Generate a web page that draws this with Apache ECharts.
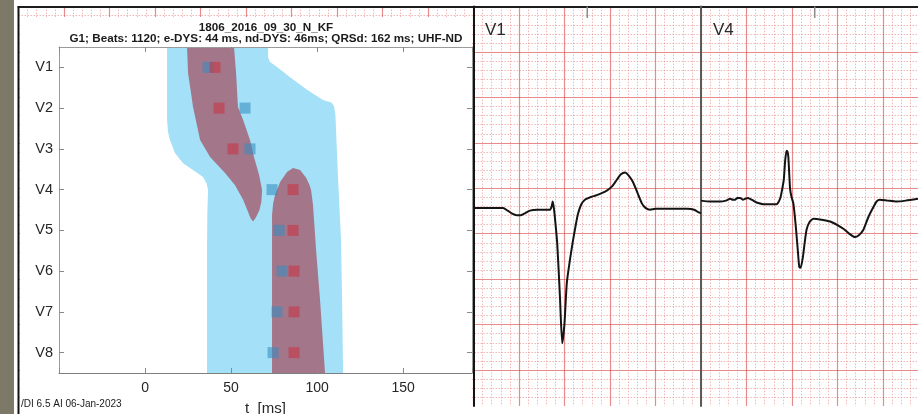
<!DOCTYPE html>
<html>
<head>
<meta charset="utf-8">
<script src="https://cdn.jsdelivr.net/npm/echarts@6/dist/echarts.min.js"></script>
<style>
html, body { margin: 0; padding: 0; background: #ffffff; }
#chart { width: 918px; height: 414px; }
</style>
</head>
<body>
<div id="chart"></div>
<script>
// ---- Activation map (left) ----
const leads = ['V1', 'V2', 'V3', 'V4', 'V5', 'V6', 'V7', 'V8'];
const timeTicks = [0, 50, 100, 150];

// Outline of the depolarisation band, [t ms, lead position]
const bandOutline = [
  [12.8, 0.5], [12.8, 2.29], [13.4, 2.60], [14.5, 2.78], [17.4, 3.10], [22.1, 3.35], [27.9, 3.52],
  [33.7, 3.69], [35.8, 3.85], [36.6, 4.01], [36.2, 4.6], [36.0, 5.48], [36.0, 8.5],
  [115.1, 8.5], [114.5, 6.71], [113.9, 5.24], [112.2, 3.76], [111.0, 2.54], [110.6, 2.15],
  [109.8, 1.95], [108.2, 1.86], [103.4, 1.80], [94.1, 1.55], [84.3, 1.24], [76.7, 0.99],
  [72.5, 0.86], [71.5, 0.75], [71.5, 0.5]
];
// Outlines of the two core zones
const coreUpper = [
  [24.4, 0.5], [25.0, 1.14], [27.9, 1.97], [32.0, 2.78], [37.8, 3.20], [46.5, 3.59],
  [52.3, 3.89], [57.0, 4.25], [59.9, 4.55], [61.3, 4.70], [62.8, 4.78], [64.5, 4.68], [66.5, 4.50],
  [67.6, 4.30], [68.0, 4.01], [66.3, 3.64], [63.3, 3.20], [61.0, 2.78], [57.0, 2.29], [54.0, 1.97],
  [52.9, 1.14], [51.7, 0.5]
];
const coreLower = [
  [73.8, 8.5], [73.8, 5.48], [73.8, 4.62], [74.4, 4.35], [75.5, 4.13], [78.5, 3.81], [82.5, 3.57],
  [86.0, 3.47], [90.1, 3.52], [93.6, 3.71], [95.5, 3.88], [96.5, 4.01], [97.6, 4.38], [99.4, 5.48],
  [101.7, 6.71], [104.6, 8.5]
];
// Per-lead activation times (ms)
const blueMarks = [36.6, 58.1, 61.0, 73.8, 77.9, 79.6, 76.7, 74.4];
const redMarks  = [40.7, 43.0, 51.1, 86.0, 86.0, 86.6, 86.6, 86.6];

// ---- Averaged beats (right), [ms, mV] ----
const v1Trace = [
  [0, -0.02], [30, -0.02], [65, -0.02], [75, -0.05], [84, -0.08], [95, -0.10], [104, -0.10],
  [113, -0.08], [124, -0.05], [140, -0.04], [168, -0.04], [172, 0.0], [174, 0.05], [176, 0.0],
  [178, -0.08], [184, -0.41], [190, -1.0], [195, -1.51], [200, -1.29], [205, -0.85],
  [212, -0.59], [219, -0.37], [225, -0.2], [230, -0.08], [237, 0.02], [245, 0.07], [258, 0.10],
  [271, 0.12], [293, 0.17], [305, 0.22], [315, 0.29], [324, 0.35], [333, 0.37], [342, 0.33],
  [351, 0.26], [360, 0.15], [370, 0.03], [378, -0.02], [388, -0.04], [400, -0.03], [418, -0.03],
  [450, -0.03], [469, -0.03], [485, -0.04], [495, -0.07], [500, -0.08]
];
const v4Trace = [
  [0, 0.06], [20, 0.05], [42, 0.05], [55, 0.06], [64, 0.08], [70, 0.07], [75, 0.07], [80, 0.09],
  [86, 0.09], [92, 0.07], [97, 0.08], [103, 0.09], [108, 0.08], [115, 0.06], [122, 0.04],
  [140, 0.02], [166, 0.02], [172, 0.06], [175, 0.10], [179, 0.2], [182, 0.29], [185, 0.5],
  [188, 0.61], [190, 0.6], [192, 0.54], [194, 0.35], [196, 0.18], [199, 0.1], [203, 0.03],
  [206, -0.1], [209, -0.26], [213, -0.5], [216, -0.67], [219, -0.68], [224, -0.56], [228, -0.4],
  [232, -0.26], [238, -0.18], [247, -0.14], [265, -0.15], [284, -0.17], [300, -0.21],
  [313, -0.25], [325, -0.3], [338, -0.34], [347, -0.32], [357, -0.26], [368, -0.12],
  [379, -0.01], [386, 0.05], [393, 0.07], [410, 0.06], [430, 0.05], [450, 0.06], [477, 0.08]
];
const fiducialMs = 250;

const FONT = 'Liberation Sans, Arial, sans-serif';
const chart = echarts.init(document.getElementById('chart'), null, { renderer: 'canvas' });

function patch(points, color) {
  return {
    type: 'custom', xAxisIndex: 1, yAxisIndex: 3, z: 2, silent: true, clip: true,
    data: [[0, 1]],
    renderItem: (params, api) => ({
      type: 'polygon',
      shape: { points: points.map(p => api.coord(p)) },
      style: { fill: color }
    })
  };
}

const paperMajor = { show: true, showMinLine: false, showMaxLine: false,
  lineStyle: { color: 'rgba(214,70,70,0.62)', width: 1.2 } };
const paperMinor = { show: true, lineStyle: { color: 'rgba(232,125,125,0.55)', width: 1, type: [1.5, 1.5] } };

const matlabLine = { show: true, onZero: false, lineStyle: { color: '#9a9a9a', width: 1 } };
const matlabTick = { show: true, inside: true, length: 5, lineStyle: { color: '#8a8a8a' } };

const option = {
  animation: false,
  grid: [
    { left: 18.5, top: 6.6, width: 899.5, height: 399.4, containLabel: false, outerBoundsMode: 'none' },
    { left: 59, top: 47, width: 413, height: 326, containLabel: false, outerBoundsMode: 'none' },
    { left: 473.5, top: 6.6, width: 227.5, height: 399.4, containLabel: false, outerBoundsMode: 'none' },
    { left: 701, top: 6.6, width: 217, height: 399.4, containLabel: false, outerBoundsMode: 'none' }
  ],
  xAxis: [
    { // ECG paper, mm
      gridIndex: 0, type: 'value', min: 0, max: 98.85, interval: 5, position: 'top', z: 0,
      axisLine: { show: true, lineStyle: { color: '#1c1c1c', width: 2 } },
      axisTick: { show: false }, axisLabel: { show: false },
      splitLine: paperMajor, minorTick: { show: false, splitNumber: 5 }, minorSplitLine: paperMinor
    },
    { // activation map, bottom
      gridIndex: 1, type: 'value', min: -50, max: 190, interval: 50, position: 'bottom', z: 5,
      axisLine: { show: true, onZero: false, lineStyle: { color: '#7f7f7f', width: 1 } },
      axisTick: matlabTick,
      axisLabel: { fontSize: 14, color: '#262626', fontFamily: FONT, margin: 8,
        formatter: v => (timeTicks.indexOf(v) >= 0 ? String(v) : '') },
      splitLine: { show: false },
      name: 't  [ms]', nameLocation: 'middle', nameGap: 28,
      nameTextStyle: { fontSize: 15, color: '#262626', fontFamily: FONT }
    },
    { // activation map, top box edge
      gridIndex: 1, type: 'value', min: -50, max: 190, interval: 50, position: 'top', z: 5,
      axisLine: matlabLine, axisTick: matlabTick, axisLabel: { show: false }, splitLine: { show: false }
    },
    { gridIndex: 2, type: 'value', min: 0, max: 500, show: false },
    { gridIndex: 3, type: 'value', min: 0, max: 477, show: false }
  ],
  yAxis: [
    { // ECG paper, mm from top
      gridIndex: 0, type: 'value', inverse: true, min: 0, max: 43.96, interval: 5, z: 0,
      axisLine: { show: false }, axisTick: { show: false }, axisLabel: { show: false },
      splitLine: paperMajor, minorTick: { show: false, splitNumber: 5 }, minorSplitLine: paperMinor
    },
    {
      gridIndex: 1, type: 'category', data: leads, inverse: true, position: 'left', z: 5,
      axisLine: matlabLine,
      axisTick: { show: true, inside: true, alignWithLabel: true, length: 5, lineStyle: { color: '#8a8a8a' } },
      axisLabel: { fontSize: 14.5, color: '#262626', fontFamily: FONT, margin: 6 },
      splitLine: { show: false }
    },
    {
      gridIndex: 1, type: 'category', data: leads, inverse: true, position: 'right', z: 5,
      axisLine: matlabLine,
      axisTick: { show: true, inside: true, alignWithLabel: true, length: 5, lineStyle: { color: '#8a8a8a' } },
      axisLabel: { show: false }, splitLine: { show: false }
    },
    { gridIndex: 1, type: 'value', min: 0.5, max: 8.5, inverse: true, show: false },
    {
      gridIndex: 2, type: 'value', min: -2.2, max: 2.195, z: 3, position: 'left',
      axisLine: { show: true, onZero: false, lineStyle: { color: '#141414', width: 2 } },
      axisTick: { show: false }, axisLabel: { show: false }, splitLine: { show: false }
    },
    {
      gridIndex: 3, type: 'value', min: -2.2, max: 2.195, z: 3, position: 'left',
      axisLine: { show: true, onZero: false, lineStyle: { color: '#5a5a5a', width: 2 } },
      axisTick: { show: false }, axisLabel: { show: false }, splitLine: { show: false }
    }
  ],
  graphic: {
    elements: [
      { type: 'rect', z: 1, silent: true, shape: { x: 0, y: 0, width: 14, height: 414 }, style: { fill: '#7c7968' } },
      { type: 'rect', z: 1, silent: true, shape: { x: 20, y: 17, width: 452, height: 397 }, style: { fill: '#ffffff' } },
      { type: 'line', z: 6, silent: true, shape: { x1: 18.5, y1: 6, x2: 18.5, y2: 414 }, style: { stroke: '#141414', lineWidth: 2 } },
      { type: 'text', z: 10, silent: true, x: 266, y: 27.5,
        style: { text: '1806_2016_09_30_N_KF', fill: '#1a1a1a', font: 'bold 11.7px ' + FONT, align: 'center', verticalAlign: 'middle' } },
      { type: 'text', z: 10, silent: true, x: 266, y: 38.8,
        style: { text: 'G1; Beats: 1120; e-DYS: 44 ms, nd-DYS: 46ms; QRSd: 162 ms; UHF-ND', fill: '#1a1a1a', font: 'bold 11.7px ' + FONT, align: 'center', verticalAlign: 'middle' } },
      { type: 'text', z: 10, silent: true, x: 21, y: 404,
        style: { text: '/DI 6.5 AI 06-Jan-2023', fill: '#1a1a1a', font: '10px ' + FONT, align: 'left', verticalAlign: 'middle' } },
      { type: 'text', z: 10, silent: true, x: 485, y: 30,
        style: { text: 'V1', fill: '#2a2a2a', font: '17px ' + FONT, align: 'left', verticalAlign: 'middle' } },
      { type: 'text', z: 10, silent: true, x: 713, y: 30,
        style: { text: 'V4', fill: '#2a2a2a', font: '17px ' + FONT, align: 'left', verticalAlign: 'middle' } }
    ]
  },
  series: [
    patch(bandOutline, '#a4e0f7'),
    patch(coreUpper, '#a3768a'),
    patch(coreLower, '#a3768a'),
    {
      type: 'scatter', xAxisIndex: 1, yAxisIndex: 3, z: 3, silent: true,
      symbol: 'rect', symbolSize: 11,
      itemStyle: { color: 'rgba(55,140,190,0.72)' },
      data: blueMarks.map((t, i) => [t, i + 1])
    },
    {
      type: 'scatter', xAxisIndex: 1, yAxisIndex: 3, z: 3, silent: true,
      symbol: 'rect', symbolSize: 11,
      itemStyle: { color: 'rgba(200,55,70,0.75)' },
      data: redMarks.map((t, i) => [t, i + 1])
    },
    {
      type: 'line', xAxisIndex: 3, yAxisIndex: 4, z: 4, silent: true, symbol: 'none', smooth: 0.2,
      lineStyle: { color: '#141414', width: 2 }, data: v1Trace
    },
    {
      type: 'line', xAxisIndex: 3, yAxisIndex: 4, z: 4, silent: true, symbol: 'none',
      lineStyle: { color: '#8c8c8c', width: 1.5 }, data: [[fiducialMs, 2.195], [fiducialMs, 2.07]]
    },
    {
      type: 'line', xAxisIndex: 4, yAxisIndex: 5, z: 4, silent: true, symbol: 'none', smooth: 0.2,
      lineStyle: { color: '#141414', width: 2 }, data: v4Trace
    },
    {
      type: 'line', xAxisIndex: 4, yAxisIndex: 5, z: 4, silent: true, symbol: 'none',
      lineStyle: { color: '#8c8c8c', width: 1.5 }, data: [[fiducialMs, 2.195], [fiducialMs, 2.07]]
    }
  ]
};
chart.setOption(option);
</script>
</body>
</html>
